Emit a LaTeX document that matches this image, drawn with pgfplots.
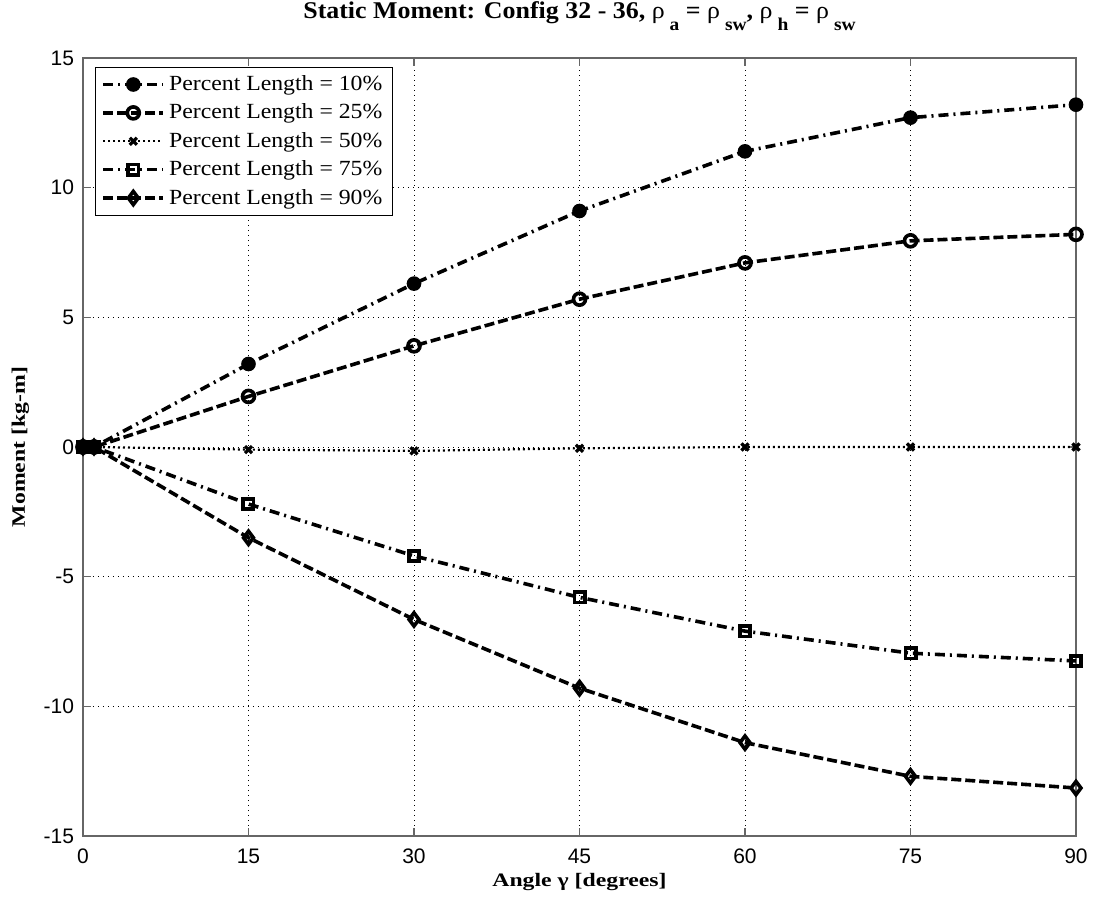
\documentclass[border=0pt]{standalone}
\usepackage{fontspec}
\setmainfont{Liberation Serif}
\newfontfamily\arial{Liberation Sans}
\newfontfamily\labelfont[FakeStretch=1.25]{Liberation Serif}
\newfontfamily\titlefont[FakeStretch=1.08]{Liberation Serif}
\newfontfamily\legfont[FakeStretch=1.1]{Liberation Serif}
\usepackage{pgfplots}
\pgfplotsset{compat=1.18}
\newcommand{\tsub}[1]{\hspace{2.5pt}\raisebox{-6pt}{\fontsize{9}{9}\selectfont\bfseries #1}}
\begin{document}
\begin{tikzpicture}[x=1pt,y=1pt]
\useasboundingbox (0,0) rectangle (550,451);
\begin{axis}[
  at={(41.5pt,33pt)}, anchor=south west,
  scale only axis, width=496.5pt, height=389pt,
  xmin=0, xmax=90, ymin=-15, ymax=15,
  clip=false,
  xtick={0,15,30,45,60,75,90},
  ytick={-15,-10,-5,0,5,10,15},
  grid=major,
  major grid style={black, line width=0.4pt, dash pattern=on 0.5pt off 2pt},
  axis line style={gray!80!black, line width=0.6pt},
  tick style={gray!80!black, line width=0.6pt},
  tick align=inside, major tick length=4pt,
  /pgf/number format/assume math mode=true,
  ticklabel style={font=\arial\fontsize{10.5}{12}\selectfont},
  xticklabel style={yshift=-3pt},
  yticklabel style={xshift=-1pt},
  title={\titlefont\bfseries Static Moment: Config 32 - 36, {\mdseries ρ}\tsub{a} = {\mdseries ρ}\tsub{sw}, {\mdseries ρ}\tsub{h} = {\mdseries ρ}\tsub{sw}},
  title style={font=\fontsize{12}{14}\selectfont, at={(axis description cs:0.5,1)}, anchor=base, yshift=14pt},
  xlabel={\labelfont\bfseries Angle γ [degrees]},
  ylabel={\labelfont\bfseries Moment [kg-m]},
  label style={font=\fontsize{9.5}{12}\selectfont},
  xlabel style={at={(axis description cs:0.5,0)}, anchor=base, yshift=-25pt},
  ylabel style={at={(axis description cs:0,0.5)}, anchor=base, yshift=29pt},
  legend style={font=\legfont\fontsize{10.8}{12}\selectfont, draw=black, line width=0.5pt, inner xsep=3pt, inner ysep=2pt, row sep=1.2pt, legend cell align=left, at={(axis description cs:0,1)}, anchor=north west, xshift=6pt, yshift=-4.5pt},
  legend image code/.code={\draw[mark repeat=2,mark phase=2] plot coordinates {(0pt,0pt) (15pt,0pt) (30pt,0pt)};},
  every axis plot/.append style={black, line width=1.8pt, mark size=3pt, mark options={solid, line width=1.3pt}},
]
\addplot[dash pattern=on 5pt off 2.5pt on 1pt off 2.5pt, mark=*] coordinates {(0,0) (1,0) (15,3.2) (30,6.3) (45,9.1) (60,11.4) (75,12.7) (90,13.2)};
\addlegendentry{Percent Length = 10\%}
\addplot[dash pattern=on 5pt off 2pt, mark=o, mark options={solid, fill=white}] coordinates {(0,0) (1,0) (15,1.95) (30,3.9) (45,5.7) (60,7.1) (75,7.95) (90,8.2)};
\addlegendentry{Percent Length = 25\%}
\addplot[dash pattern=on 1pt off 1.5pt, line width=1.1pt, mark=x, mark options={solid, line width=1.6pt, mark size=2.5pt}] coordinates {(0,0) (1,0) (15,-0.1) (30,-0.15) (45,-0.05) (60,0) (75,0) (90,0)};
\addlegendentry{Percent Length = 50\%}
\addplot[dash pattern=on 5pt off 2.5pt on 1pt off 2.5pt, mark=square, mark options={solid, fill=white, mark size=2.6pt}] coordinates {(0,0) (1,0) (15,-2.2) (30,-4.2) (45,-5.8) (60,-7.1) (75,-7.95) (90,-8.25)};
\addlegendentry{Percent Length = 75\%}
\addplot[dash pattern=on 5pt off 2pt, mark=diamond, mark options={solid, fill=white, mark size=3.3pt}] coordinates {(0,0) (1,0) (15,-3.5) (30,-6.65) (45,-9.3) (60,-11.4) (75,-12.7) (90,-13.15)};
\addlegendentry{Percent Length = 90\%}
\end{axis}
\end{tikzpicture}
\end{document}
